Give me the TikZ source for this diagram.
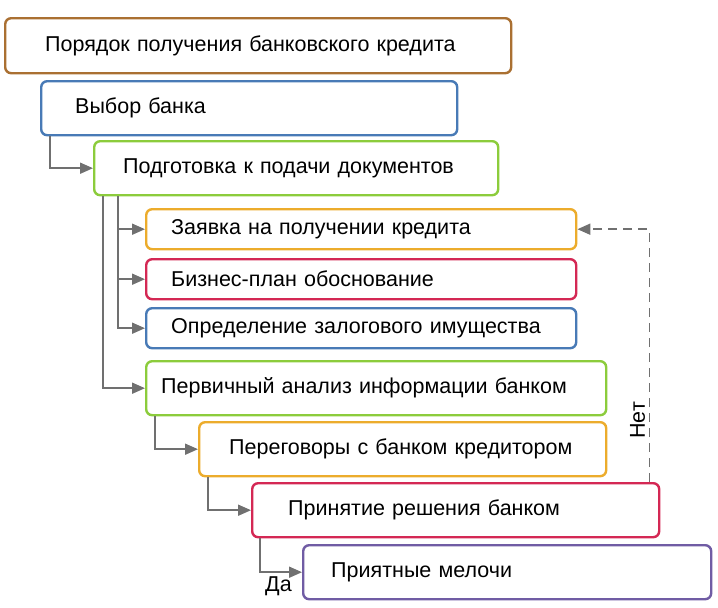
\documentclass[tikz,border=0pt]{standalone}
\usepackage{fontspec}
\setmainfont{Liberation Sans}
\definecolor{bx_brown}{RGB}{170, 112, 50}
\definecolor{bx_blue}{RGB}{72, 122, 182}
\definecolor{bx_green}{RGB}{140, 204, 60}
\definecolor{bx_orange}{RGB}{236, 172, 44}
\definecolor{bx_red}{RGB}{212, 40, 84}
\definecolor{bx_purple}{RGB}{112, 92, 164}
\definecolor{ln_gray}{RGB}{112, 112, 112}
\usetikzlibrary{arrows.meta, positioning}

\begin{document}
\begin{tikzpicture}[
        x=1pt, y=-1pt,
        box/.style={rectangle, rounded corners=6pt, line width=2.4pt, fill=white,
                    anchor=north west, inner xsep=30pt, inner ysep=0pt,
                    align=left, font=\fontsize{21.5}{24}\selectfont},
        link/.style={-{Triangle[length=13pt, width=11pt]}, line width=1.8pt, ln_gray},
        lbl/.style={font=\fontsize{21.5}{24}\selectfont, black},
      ]
        \useasboundingbox (0,0) rectangle (718,608);

        % boxes
        \node[box, draw=bx_brown, minimum width=506, minimum height=55, text width=426, inner xsep=40pt]
          (order) at (4,17) {Порядок получения банковского кредита};
        \node[box, draw=bx_blue, minimum width=416, minimum height=54, text width=348, inner xsep=34pt]
          (bank) at (40,80) {Выбор банка};
        \node[box, draw=bx_green, minimum width=404, minimum height=54, text width=346, inner xsep=29pt]
          (prep) at (93,140) {Подготовка к подачи документов};
        \node[box, draw=bx_orange, minimum width=430, minimum height=40, text width=380, inner xsep=25pt]
          (claim) at (145,208) {Заявка на получении кредита};
        \node[box, draw=bx_red, minimum width=430, minimum height=40, text width=380, inner xsep=25pt]
          (plan) at (145,258) {Бизнес-план обоснование};
        \node[box, draw=bx_blue, minimum width=430, minimum height=40, text width=380, inner xsep=25pt]
          (pledge) at (145,307) {Определение залогового имущества};
        \node[box, draw=bx_green, minimum width=460, minimum height=54, text width=430, inner xsep=15pt]
          (anal) at (145,360) {Первичный анализ информации банком};
        \node[box, draw=bx_orange, minimum width=407, minimum height=54, text width=347, inner xsep=30pt]
          (talk) at (198,421) {Переговоры с банком кредитором};
        \node[box, draw=bx_red, minimum width=407, minimum height=54, text width=335, inner xsep=36pt]
          (decide) at (251,482) {Принятие решения банком};
        \node[box, draw=bx_purple, minimum width=408, minimum height=54, text width=352, inner xsep=28pt]
          (extra) at (302,544) {Приятные мелочи};

        % links
        \draw[link] ([xshift=10pt]bank.south west) |- (prep.west);
        \draw[link] ([xshift=25pt]prep.south west) |- (claim.west);
        \draw[link] ([xshift=25pt]prep.south west) |- (plan.west);
        \draw[link] ([xshift=25pt]prep.south west) |- (pledge.west);
        \draw[link] ([xshift=10pt]prep.south west) |- (anal.west);
        \draw[link] ([xshift=10pt]anal.south west) |- (talk.west);
        \draw[link] ([xshift=10pt]talk.south west) |- (decide.west);
        \draw[link] ([xshift=9pt]decide.south west) |- (extra.west)
          node[lbl, pos=0.72, below=0pt] {Да};
        \draw[link, dashed, dash pattern=on 9pt off 6pt]
          ([xshift=-11pt]decide.north east) |- (claim.east)
          node[lbl, pos=0.12, rotate=90, above=1pt] {Нет};
      \end{tikzpicture}
\end{document}
